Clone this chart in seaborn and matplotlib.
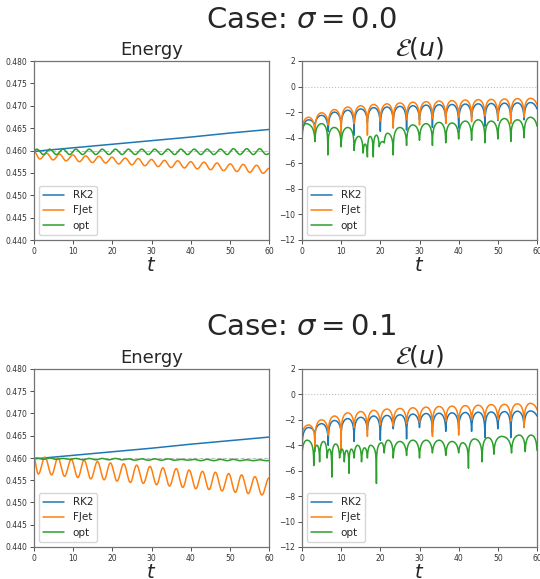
import numpy as np
import pandas as pd
import matplotlib
matplotlib.use("Agg")
import matplotlib.pyplot as plt
import seaborn as sns

# ---------------------------------------------------------------------------
# Data: extrema of each time series (time of extremum, value at extremum)
# ---------------------------------------------------------------------------
T_END = 60.0
E0 = 0.4599  # initial energy (reference line)

# Energy, RK2 (slow linear drift), both cases
rk2_energy_t = [0, 10, 20, 30, 40, 50, 60]
rk2_energy_s0 = [0.4598, 0.4606, 0.4614, 0.4622, 0.4630, 0.4639, 0.4647]
rk2_energy_s1 = [0.4598, 0.4606, 0.4614, 0.4622, 0.4631, 0.4639, 0.4647]

# Energy, FJet, sigma = 0.0 : alternating peak / trough nodes
fjet_energy_s0_t = [0, 1.5, 3.2, 4.9, 6.5, 8.2, 9.9, 11.6, 13.2, 14.9, 16.6, 18.3,
                    19.9, 21.6, 23.3, 25.0, 26.6, 28.3, 30.0, 31.7, 33.3, 35.0,
                    36.7, 38.4, 40.0, 41.7, 43.4, 45.1, 46.7, 48.4, 50.1, 51.8,
                    53.4, 55.1, 56.8, 58.5, 60]
fjet_energy_s0_v = [0.4598, 0.4581, 0.4594, 0.4579, 0.4592, 0.4577, 0.4590, 0.4575,
                    0.4588, 0.4573, 0.4587, 0.4572, 0.4585, 0.4570, 0.4583, 0.4568,
                    0.4582, 0.4566, 0.4580, 0.4564, 0.4578, 0.4562, 0.4577, 0.4561,
                    0.4575, 0.4559, 0.4574, 0.4557, 0.4572, 0.4555, 0.4570, 0.4553,
                    0.4569, 0.4551, 0.4567, 0.4549, 0.4560]

# Energy, opt, sigma = 0.0
opt_energy_s0_t = [0, 0.7, 2.4, 4.0, 5.7, 7.4, 9.1, 10.7, 12.4, 14.1, 15.8, 17.4,
                   19.1, 20.8, 22.5, 24.1, 25.8, 27.5, 29.2, 30.8, 32.5, 34.2,
                   35.9, 37.5, 39.2, 40.9, 42.6, 44.2, 45.9, 47.6, 49.3, 50.9,
                   52.6, 54.3, 56.0, 57.6, 59.3, 60]
opt_energy_s0_v = [0.4600, 0.4603, 0.4591, 0.4603, 0.4591, 0.4603, 0.4591, 0.4603,
                   0.4591, 0.4603, 0.4591, 0.4603, 0.4591, 0.4603, 0.4591, 0.4603,
                   0.4591, 0.4603, 0.4591, 0.4603, 0.4591, 0.4603, 0.4591, 0.4603,
                   0.4591, 0.4603, 0.4591, 0.4603, 0.4591, 0.4603, 0.4591, 0.4604,
                   0.4591, 0.4604, 0.4591, 0.4604, 0.4591, 0.4593]

# Energy, FJet, sigma = 0.1
fjet_energy_s1_t = [0, 1.1, 2.8, 4.5, 6.1, 7.8, 9.5, 11.2, 12.8, 14.5, 16.2, 17.9,
                    19.5, 21.2, 22.9, 24.6, 26.2, 27.9, 29.6, 31.3, 32.9, 34.6,
                    36.3, 38.0, 39.6, 41.3, 43.0, 44.7, 46.3, 48.0, 49.7, 51.4,
                    53.0, 54.7, 56.4, 58.2, 60]
fjet_energy_s1_v = [0.4598, 0.4564, 0.4602, 0.4562, 0.4600, 0.4559, 0.4597, 0.4556,
                    0.4595, 0.4553, 0.4592, 0.4551, 0.4589, 0.4548, 0.4587, 0.4545,
                    0.4584, 0.4543, 0.4581, 0.4540, 0.4578, 0.4537, 0.4576, 0.4534,
                    0.4573, 0.4531, 0.4570, 0.4529, 0.4568, 0.4526, 0.4565, 0.4523,
                    0.4562, 0.4520, 0.4558, 0.4517, 0.4555]

# Energy, opt, sigma = 0.1 (small wiggles around the initial value)
opt_energy_s1_t = [0, 0.7, 2.4, 4.0, 5.7, 7.4, 9.1, 10.7, 12.4, 14.1, 15.8, 17.4,
                   19.1, 20.8, 22.5, 24.1, 25.8, 27.5, 29.2, 30.8, 32.5, 34.2,
                   35.9, 37.5, 39.2, 40.9, 42.6, 44.2, 45.9, 47.6, 49.3, 50.9,
                   52.6, 54.3, 56.0, 57.6, 59.3, 60]
opt_energy_s1_v = [0.4599, 0.4600, 0.4597, 0.4600, 0.4597, 0.4599, 0.4597, 0.4599,
                   0.4596, 0.4599, 0.4596, 0.4599, 0.4596, 0.4599, 0.4596, 0.4598,
                   0.4595, 0.4598, 0.4595, 0.4598, 0.4595, 0.4598, 0.4595, 0.4597,
                   0.4595, 0.4597, 0.4594, 0.4597, 0.4594, 0.4597, 0.4594, 0.4597,
                   0.4594, 0.4596, 0.4594, 0.4596, 0.4594, 0.4594]

# log10 error: cusp (dip) times and arch-crest times shared by RK2 / FJet
cusp_t = [0, 3.3, 6.7, 10, 13.3, 16.7, 20, 23.3, 26.7, 30, 33.3, 36.7, 40,
          43.3, 46.7, 50, 53.3, 56.7, 60]
crest_t = [1.7, 5, 8.3, 11.7, 15, 18.3, 21.7, 25, 28.3, 31.7, 35, 38.3, 41.7,
           45, 48.3, 51.7, 55, 58.3]

# sigma = 0.0
rk2_err_s0_dip = [-5.6, -3.0, -3.5, -3.0, -3.8, -2.8, -3.5, -2.7, -3.4, -2.6,
                  -3.2, -2.5, -3.25, -2.4, -3.1, -2.65, -2.5, -2.6, -1.75]
rk2_err_s0_top = [-2.6, -2.25, -2.0, -1.85, -1.75, -1.65, -1.6, -1.55, -1.5,
                  -1.45, -1.42, -1.4, -1.37, -1.35, -1.32, -1.3, -1.28, -1.25]
fjet_err_s0_dip = [-3.4, -4.3, -3.0, -4.7, -2.9, -3.8, -2.7, -3.25, -2.6, -3.0,
                   -2.5, -2.9, -2.4, -2.75, -2.3, -2.6, -2.9, -2.4, -1.4]
fjet_err_s0_top = [-2.4, -2.05, -1.8, -1.6, -1.5, -1.4, -1.35, -1.28, -1.22,
                   -1.18, -1.13, -1.1, -1.05, -1.02, -1.0, -0.97, -0.94, -0.92]

# opt error, sigma = 0.0: alternating dip / crest nodes
opt_err_s0_t = [0, 1.0, 3.3, 5.0, 6.6, 8.2, 10.0, 11.7, 13.3, 14.5, 15.6, 16.1,
                16.7, 17.4, 18.2, 19.0, 19.7, 20.5, 21.0, 21.8, 23.3, 25.0,
                26.7, 28.3, 30.0, 31.7, 33.3, 35.0, 36.7, 38.3, 40.0, 41.7,
                43.3, 45.0, 46.7, 48.3, 50.0, 51.7, 53.3, 55.0, 56.7, 58.3, 60]
opt_err_s0_v = [-3.6, -2.9, -4.3, -2.9, -5.35, -3.2, -4.7, -3.2, -5.0, -3.9,
                -5.2, -4.5, -5.5, -3.9, -5.5, -3.8, -4.7, -4.3, -4.4, -3.65,
                -5.35, -3.2, -4.6, -3.0, -4.2, -2.9, -4.6, -2.8, -4.4, -2.85,
                -4.1, -2.7, -4.2, -2.6, -4.4, -2.7, -4.1, -2.5, -4.3, -2.6,
                -4.0, -2.4, -3.1]

# sigma = 0.1
rk2_err_s1_dip = [-5.0, -3.0, -4.0, -3.0, -3.7, -2.8, -3.6, -2.7, -3.5, -2.6,
                  -3.0, -2.9, -2.7, -2.9, -3.4, -2.7, -3.4, -2.6, -1.7]
rk2_err_s1_top = [-2.6, -2.3, -2.05, -1.9, -1.8, -1.7, -1.65, -1.6, -1.55,
                  -1.5, -1.48, -1.45, -1.42, -1.4, -1.38, -1.35, -1.32, -1.3]
fjet_err_s1_dip = [-3.1, -4.5, -3.2, -4.6, -2.6, -3.3, -2.4, -2.5, -2.3, -2.2,
                   -3.3, -2.1, -3.2, -2.0, -1.9, -2.0, -2.1, -2.6, -1.2]
fjet_err_s1_top = [-2.4, -2.0, -1.7, -1.45, -1.35, -1.25, -1.15, -1.1, -1.05,
                   -1.0, -0.95, -0.92, -0.88, -0.85, -0.8, -0.78, -0.74, -0.7]

opt_err_s1_t = [0, 1.3, 3.0, 3.8, 4.5, 5.5, 6.4, 7.0, 7.6, 8.6, 9.6, 10.2, 10.8,
                11.4, 12.0, 12.6, 13.3, 14.2, 15.2, 16.0, 16.7, 17.5, 19.0,
                20.3, 21.0, 22.0, 23.3, 25.0, 26.7, 28.3, 30.0, 31.7, 33.3,
                35.0, 36.7, 38.3, 40.0, 41.0, 42.5, 44.0, 46.0, 47.5, 49.0,
                51.0, 53.5, 55.5, 57.0, 58.5, 60]
opt_err_s1_v = [-4.8, -3.6, -5.6, -4.0, -5.3, -3.7, -5.0, -4.3, -6.5, -3.9,
                -5.0, -4.3, -5.3, -4.4, -6.2, -4.3, -5.0, -4.0, -5.3, -4.2,
                -5.0, -4.0, -7.0, -3.8, -4.6, -3.6, -5.0, -3.7, -4.8, -3.6,
                -5.0, -3.6, -4.6, -3.6, -4.8, -3.7, -4.6, -3.8, -5.8, -3.5,
                -5.3, -3.4, -4.7, -3.3, -4.6, -3.2, -4.5, -3.2, -4.4]

LABELS = ["RK2", "FJet", "opt"]
COLORS = sns.color_palette("tab10", 3)


# ---------------------------------------------------------------------------
# Curve builders: smooth paths through the extrema nodes
# ---------------------------------------------------------------------------
def smooth_through(times, values, m=60):
    """Half-cosine segments between consecutive extrema."""
    ts, vs = [], []
    for i in range(len(times) - 1):
        s = np.linspace(0, 1, m, endpoint=False)
        ts.append(times[i] + (times[i + 1] - times[i]) * s)
        vs.append(values[i] + (values[i + 1] - values[i]) * (1 - np.cos(np.pi * s)) / 2)
    ts.append([times[-1]])
    vs.append([values[-1]])
    return np.concatenate(ts), np.concatenate(vs)


def log_arches(times, values, m=300):
    """Alternating dip/crest nodes (starting with a dip) joined by
    log-shaped arches that are sharp at the dips and rounded at the crests."""
    ts, vs = [], []
    for i in range(len(times) - 1):
        u = np.linspace(0, 1, m, endpoint=False)
        a, b = times[i], times[i + 1]
        va, vb = values[i], values[i + 1]
        rising = (i % 2 == 0)
        if rising:
            dip, top = va, vb
            s = u ** 3
            t = a + (b - a) * s
        else:
            dip, top = vb, va
            s = (1 - u) ** 3
            t = b - (b - a) * s
        eps = 10.0 ** (dip - top)
        v = top + np.log10(np.sin(np.pi * s / 2) * (1 - eps) + eps)
        ts.append(t)
        vs.append(v)
    ts.append([times[-1]])
    vs.append([values[-1]])
    t = np.concatenate(ts)
    v = np.concatenate(vs)
    order = np.argsort(t, kind="stable")
    return t[order], v[order]


def interleave(dips, tops):
    out = []
    for i, d in enumerate(dips):
        out.append(d)
        if i < len(tops):
            out.append(tops[i])
    return out


node_t = interleave(cusp_t, crest_t)

energy_series = {
    0.0: [(rk2_energy_t, rk2_energy_s0, False),
          (fjet_energy_s0_t, fjet_energy_s0_v, True),
          (opt_energy_s0_t, opt_energy_s0_v, True)],
    0.1: [(rk2_energy_t, rk2_energy_s1, False),
          (fjet_energy_s1_t, fjet_energy_s1_v, True),
          (opt_energy_s1_t, opt_energy_s1_v, True)],
}
error_series = {
    0.0: [(node_t, interleave(rk2_err_s0_dip, rk2_err_s0_top)),
          (node_t, interleave(fjet_err_s0_dip, fjet_err_s0_top)),
          (opt_err_s0_t, opt_err_s0_v)],
    0.1: [(node_t, interleave(rk2_err_s1_dip, rk2_err_s1_top)),
          (node_t, interleave(fjet_err_s1_dip, fjet_err_s1_top)),
          (opt_err_s1_t, opt_err_s1_v)],
}

# ---------------------------------------------------------------------------
# Figure
# ---------------------------------------------------------------------------
sns.set_style("ticks")
plt.rcParams["font.family"] = ["DejaVu Sans"]
plt.rcParams["mathtext.fontset"] = "dejavusans"

fig = plt.figure(figsize=(5.4, 5.79), dpi=100)

W, H = 540.0, 579.0
rows = {0.0: (61, 240), 0.1: (369, 547)}
cols = [(34, 269), (302, 537)]
case_title_y = {0.0: 20, 0.1: 327}

for sigma in (0.0, 0.1):
    top_px, bot_px = rows[sigma]
    axes = []
    for (l_px, r_px) in cols:
        ax = fig.add_axes([l_px / W, 1 - bot_px / H, (r_px - l_px) / W,
                           (bot_px - top_px) / H])
        axes.append(ax)
    ax_e, ax_r = axes

    # energy panel
    ax_e.axhline(E0, color="0.6", ls="--", lw=0.8, alpha=0.6, zorder=1)
    for (tt, vv, wavy), lab, col in zip(energy_series[sigma], LABELS, COLORS):
        if wavy:
            x, y = smooth_through(tt, vv)
        else:
            x, y = np.asarray(tt, float), np.asarray(vv, float)
        df = pd.DataFrame({"t": x, "E": y})
        sns.lineplot(data=df, x="t", y="E", ax=ax_e, color=col, lw=1.1,
                     label=lab, estimator=None, sort=False)
    ax_e.set_xlim(0, T_END)
    ax_e.set_ylim(0.44, 0.48)
    ax_e.set_yticks(np.arange(0.44, 0.4801, 0.005))
    ax_e.yaxis.set_major_formatter(matplotlib.ticker.FormatStrFormatter("%.3f"))
    ax_e.set_title("Energy", fontsize=13, pad=4)

    # error panel
    ax_r.axhline(0, color="0.75", ls=":", lw=0.8, zorder=1)
    for (tt, vv), lab, col in zip(error_series[sigma], LABELS, COLORS):
        x, y = log_arches(tt, vv)
        df = pd.DataFrame({"t": x, "err": y})
        sns.lineplot(data=df, x="t", y="err", ax=ax_r, color=col, lw=1.1,
                     label=lab, estimator=None, sort=False)
    ax_r.set_xlim(0, T_END)
    ax_r.set_ylim(-12, 2)
    ax_r.set_yticks(np.arange(-12, 3, 2))
    ax_r.set_title(r"$\mathcal{E}(u)$", fontsize=18, pad=3)

    for ax in axes:
        ax.set_xticks(np.arange(0, 61, 10))
        ax.tick_params(labelsize=5.5, length=3, width=0.6, pad=2,
                       colors="0.2")
        ax.set_xlabel(r"$t$", fontsize=14, labelpad=0)
        ax.set_ylabel("")
        for sp in ax.spines.values():
            sp.set_linewidth(0.9)
            sp.set_color("0.45")
        ax.legend(loc="lower left", fontsize=7.5, frameon=True,
                  handlelength=2.0)

    fig.text(301 / W, 1 - case_title_y[sigma] / H,
             r"Case: $\sigma = %.1f$" % sigma, fontsize=21,
             ha="center", va="center")

fig.savefig("out.png", dpi=100, facecolor="white")
